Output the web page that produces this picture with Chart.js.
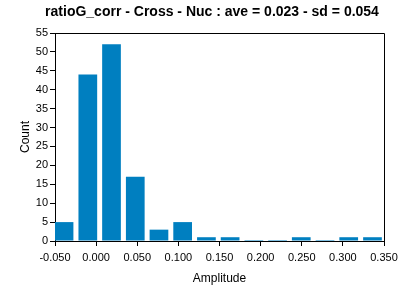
<!DOCTYPE html>
<html><head><meta charset="utf-8">
<script src="https://cdn.jsdelivr.net/npm/chart.js@4/dist/chart.umd.min.js"></script>
<style>html,body{margin:0;padding:0;background:#fff}#wrap{width:408px;height:287px}</style>
</head><body><div id="wrap"><canvas id="c" width="408" height="287"></canvas></div>
<script>
const titleText = "ratioG_corr - Cross - Nuc : ave = 0.023 - sd = 0.054";
const binCenters = [-0.039, -0.0101, 0.0187, 0.0476, 0.0764, 0.1052, 0.1341, 0.1629, 0.1918, 0.2206, 0.2494, 0.2783, 0.3071, 0.3360];
const counts = [5, 44, 52, 17, 3, 5, 1, 1, 0, 0, 1, 0, 1, 1];
const xTicks = [-0.05, 0.0, 0.05, 0.1, 0.15, 0.2, 0.25, 0.3, 0.35];
const yTicks = [0, 5, 10, 15, 20, 25, 30, 35, 40, 45, 50, 55];
const xLabel = "Amplitude";
const yLabel = "Count";

const FONT = "'Liberation Sans', sans-serif";
const framePlugin = {
  id: 'frame',
  afterDatasetsDraw(chart) {
    const {ctx, chartArea: a} = chart;
    ctx.save();
    ctx.strokeStyle = '#000';
    ctx.lineWidth = 1;
    ctx.beginPath();
    ctx.moveTo(a.left, a.top + 0.5);
    ctx.lineTo(a.right + 0.5, a.top + 0.5);
    ctx.lineTo(a.right + 0.5, a.bottom);
    ctx.stroke();
    ctx.restore();
  },
  afterDraw(chart) {
    const ctx = chart.ctx;
    ctx.save();
    ctx.fillStyle = '#000';
    ctx.font = "bold 14px " + FONT;
    ctx.textAlign = 'center';
    ctx.textBaseline = 'middle';
    ctx.fillText(titleText, 212, 12);
    ctx.restore();
  }
};

new Chart(document.getElementById('c'), {
  type: 'bar',
  data: {
    datasets: [{
      data: binCenters.map((x, i) => ({x: x, y: counts[i]})),
      backgroundColor: '#007fc0',
      borderWidth: 0,
      barPercentage: 0.79,
      categoryPercentage: 1.0,
      minBarLength: 1
    }]
  },
  options: {
    responsive: false,
    animation: false,
    devicePixelRatio: 1,
    layout: {padding: {left: 0, right: 24, top: 33, bottom: 0}},
    plugins: {
      legend: {display: false},
      tooltip: {enabled: false},
      title: {display: false}
    },
    scales: {
      x: {
        type: 'linear',
        offset: false,
        min: -0.05, max: 0.35,
        afterBuildTicks(s) { s.ticks = xTicks.map(v => ({value: v})); },
        afterFit(s) { s.height = 46; },
        ticks: {
          color: '#000',
          font: {family: FONT, size: 11},
          padding: 5,
          maxRotation: 0,
          autoSkip: false,
          callback: v => Number(v).toFixed(3)
        },
        grid: {display: true, drawOnChartArea: false, drawTicks: true, tickLength: 5, color: '#000', offset: false},
        border: {color: '#000', width: 1},
        title: {display: true, text: xLabel, color: '#000', font: {family: FONT, size: 12}, padding: {top: 4, bottom: 1}}
      },
      y: {
        min: 0, max: 55,
        afterBuildTicks(s) { s.ticks = yTicks.map(v => ({value: v})); },
        afterFit(s) { s.width = 55; },
        ticks: {
          color: '#000',
          font: {family: FONT, size: 11},
          padding: 2,
          autoSkip: false
        },
        grid: {display: true, drawOnChartArea: false, drawTicks: true, tickLength: 5, color: '#000'},
        border: {color: '#000', width: 1},
        title: {display: true, text: yLabel, color: '#000', font: {family: FONT, size: 12}, padding: {top: 18, bottom: 0}}
      }
    }
  },
  plugins: [framePlugin]
});
</script>
</body></html>
